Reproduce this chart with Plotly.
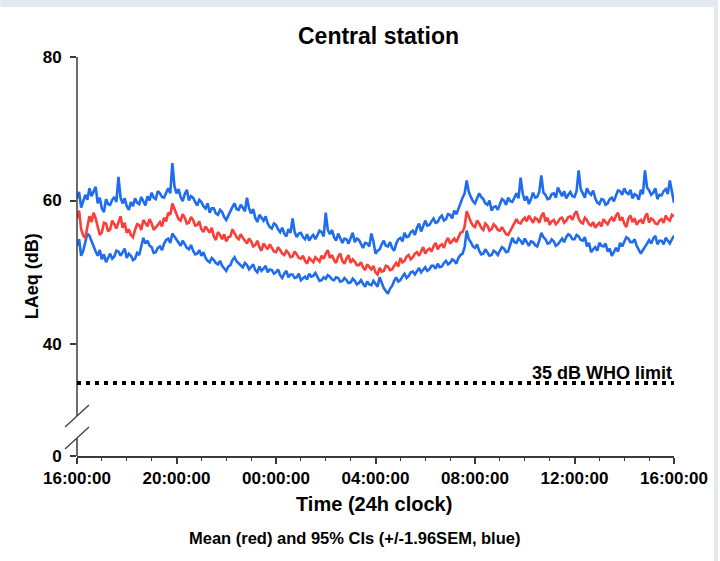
import plotly.graph_objects as go
import pandas as pd

# ---------------- data (5-minute resolution, 16:00 -> 16:00 next day) ----------------
start_time = "2021-01-01 16:00"
end_time = "2021-01-02 16:00"
step = "5min"

mean_db = [
    57.5, 58.6, 56.0, 55.1, 54.8, 56.4, 57.8, 57.0, 58.3, 57.5, 56.3, 55.2,
    55.6, 56.9, 56.8, 55.7, 56.0, 57.2, 56.7, 56.1, 57.0, 57.8, 56.2, 56.9,
    55.5, 56.0, 55.2, 54.9, 55.9, 56.7, 56.6, 55.9, 57.3, 56.8, 56.4, 57.4,
    56.8, 55.9, 56.2, 56.6, 57.0, 56.4, 57.6, 57.1, 58.3, 58.0, 59.6, 58.9,
    58.0, 57.4, 57.2, 58.1, 57.6, 56.8, 56.9, 57.7, 57.3, 56.5, 56.6, 57.1,
    56.0, 55.6, 56.4, 56.0, 55.5, 56.2, 55.0, 54.5, 55.6, 55.2, 54.6, 55.3,
    54.3, 54.9, 55.0, 56.0, 55.4, 54.9, 54.6, 55.3, 54.8, 54.3, 54.0, 54.7,
    54.3, 53.6, 53.8, 54.4, 53.5, 53.0, 54.0, 53.6, 53.2, 53.9, 53.4, 52.9,
    52.8, 53.5, 53.1, 52.6, 52.4, 53.0, 52.7, 52.1, 52.2, 52.9, 52.5, 52.0,
    51.9, 52.3, 51.6, 51.2, 52.0, 51.7, 51.4, 52.1, 51.8, 51.5, 52.3, 51.9,
    52.6, 53.1, 52.0, 52.4, 51.7, 51.3, 52.2, 52.6, 51.6, 51.2, 51.9, 52.4,
    51.3, 51.8, 51.5, 51.0, 51.0, 51.4, 50.7, 50.3, 51.1, 50.8, 50.4, 50.9,
    50.0, 49.7, 50.6, 50.1, 50.2, 50.9, 50.8, 50.3, 50.4, 50.9, 51.3, 50.8,
    52.0, 51.4, 51.6, 52.2, 52.4, 51.8, 52.1, 52.6, 52.8, 52.3, 53.0, 53.5,
    52.6, 53.1, 53.3, 52.9, 53.6, 54.1, 53.2, 53.7, 53.9, 53.4, 54.3, 54.8,
    54.0, 54.4, 54.7, 54.2, 55.0, 55.5, 55.6, 56.4, 58.5, 57.6, 57.0, 56.5,
    56.3, 57.2, 56.8, 56.2, 55.9, 56.8, 56.5, 55.8, 56.0, 56.7, 56.4, 55.9,
    55.8, 56.3, 55.8, 55.3, 55.2, 55.7, 56.3, 56.9, 57.4, 56.9, 56.8, 57.3,
    57.6, 57.1, 57.9, 57.4, 56.9, 57.6, 57.4, 56.9, 57.8, 58.3, 57.1, 57.6,
    56.6, 57.1, 57.3, 56.7, 57.0, 57.5, 57.6, 56.9, 57.2, 57.7, 57.8, 57.3,
    58.1, 58.5, 57.5, 57.0, 56.8, 57.6, 57.3, 56.7, 56.5, 57.0, 56.2, 56.6,
    56.9, 56.4, 57.4, 57.0, 56.7, 57.3, 57.6, 57.1, 57.9, 58.3, 57.2, 57.7,
    56.8, 56.3, 57.5, 57.9, 57.0, 57.5, 56.6, 57.1, 57.3, 56.8, 57.7, 58.2,
    56.9, 57.5, 57.3, 56.8, 56.7, 57.2, 57.4, 56.9, 57.9, 57.4, 57.2, 58.0,
    57.8,
]

upper_db = [
    60.3, 61.2, 59.0, 59.8, 60.8, 60.1, 61.7, 60.6, 61.2, 61.9, 59.6, 60.4,
    58.9, 58.4, 60.2, 59.5, 59.4, 60.1, 60.5, 59.8, 63.3, 60.4, 59.6, 60.3,
    59.2, 58.7, 59.8, 59.2, 60.3, 59.7, 59.5, 60.5, 59.9, 59.3, 60.6, 60.0,
    61.1, 60.4, 60.2, 61.3, 61.0, 60.5, 60.4, 61.2, 61.7, 61.0, 65.2, 62.0,
    61.0, 61.6, 60.5, 59.9, 60.9, 61.5, 60.0, 60.6, 60.4, 59.8, 59.3, 60.1,
    59.8, 59.2, 58.9, 59.6, 58.3, 58.9, 58.9, 58.2, 58.0, 58.7, 58.4, 57.7,
    57.3, 57.9, 58.6, 59.1, 59.6, 58.8, 58.7, 59.4, 59.0, 58.5, 60.4, 58.9,
    58.2, 58.8, 57.6, 57.0, 58.0, 57.5, 57.2, 57.8, 56.8, 56.3, 56.1, 56.8,
    56.6, 56.0, 55.6, 56.2, 55.4, 55.0, 56.0, 55.5, 57.5, 55.6, 54.9, 55.4,
    55.5, 54.9, 54.6, 55.3, 54.4, 54.9, 55.2, 54.6, 55.1, 55.8, 55.6, 55.0,
    58.3, 55.9, 55.3, 55.9, 54.9, 54.4, 55.4, 54.8, 54.1, 54.7, 54.6, 54.0,
    54.9, 55.5, 54.2, 54.7, 54.5, 53.9, 53.4, 54.1, 54.0, 53.6, 55.4, 54.3,
    52.6, 53.0, 53.2, 53.9, 54.4, 53.7, 53.6, 54.2, 53.4, 53.0, 54.0, 54.6,
    54.8, 54.3, 55.5, 54.9, 55.0, 55.6, 55.8, 55.2, 56.2, 56.8, 55.7, 56.4,
    57.2, 56.5, 56.6, 57.1, 57.5, 56.9, 57.0, 57.6, 57.9, 57.2, 57.4, 58.1,
    58.0, 57.5, 58.6, 58.1, 59.0, 59.6, 60.4, 61.0, 62.8, 61.2, 60.5, 59.9,
    59.6, 60.4, 61.0, 60.5, 60.2, 59.6, 59.4, 60.0, 58.6, 59.1, 59.2, 58.7,
    59.6, 60.2, 60.0, 59.4, 60.4, 59.9, 59.8, 60.5, 61.0, 60.3, 63.2, 61.0,
    60.0, 60.6, 59.5, 60.2, 61.1, 60.4, 60.5, 61.2, 63.5, 61.1, 60.8, 60.2,
    60.3, 60.9, 61.0, 60.4, 61.8, 61.2, 60.6, 61.3, 60.3, 60.8, 61.2, 60.6,
    60.5, 61.3, 64.2, 61.6, 61.0, 60.4, 61.7, 61.1, 60.8, 61.4, 60.3, 59.7,
    59.5, 60.2, 60.1, 59.4, 59.6, 60.2, 60.4, 59.9, 60.7, 61.4, 61.3, 60.8,
    61.7, 61.1, 60.9, 61.5, 60.3, 60.9, 60.7, 60.1, 61.5, 60.9, 64.2, 61.8,
    61.4, 60.8, 61.1, 61.7, 60.2, 60.8, 60.7, 61.3, 61.6, 60.9, 62.8, 61.0,
    59.7,
]

lower_db = [
    53.7, 54.6, 52.3, 53.0, 54.2, 55.4, 55.1, 54.3, 53.7, 52.9, 52.3, 53.1,
    51.8, 52.5, 51.4, 52.0, 52.6, 51.9, 52.2, 53.0, 52.9, 52.3, 52.8, 53.3,
    52.0, 52.6, 52.3, 51.7, 51.9, 52.7, 52.4, 53.6, 54.8, 54.0, 54.4, 53.7,
    53.5, 52.7, 52.8, 53.4, 53.6, 53.1, 54.0, 54.5, 54.7, 54.1, 55.4, 55.0,
    54.6, 54.1, 53.7, 54.4, 53.9, 53.4, 53.2, 53.8, 53.0, 52.5, 52.6, 53.1,
    52.3, 52.8, 52.0, 51.6, 51.4, 52.0, 51.7, 51.3, 51.1, 51.6, 50.9, 50.5,
    50.2, 50.8, 51.0, 51.7, 52.1, 51.5, 51.2, 50.9, 50.7, 51.3, 51.0, 50.4,
    50.7, 51.1, 50.3, 50.0, 50.8, 50.2, 50.5, 50.9, 50.0, 50.4, 50.3, 49.8,
    50.0, 50.4, 49.6, 49.2, 49.8, 50.2, 49.3, 49.7, 49.7, 49.2, 49.3, 49.8,
    48.9, 49.2, 49.4, 49.0, 49.8, 49.4, 49.5, 49.9, 49.3, 48.8, 48.9, 49.3,
    49.1, 49.6, 49.4, 49.0, 48.9, 49.3, 49.2, 48.7, 48.8, 49.2, 48.9, 48.5,
    48.6, 49.1, 48.8, 48.3, 48.5, 48.9, 48.4, 48.0, 48.7, 48.3, 48.2, 48.8,
    48.4, 48.0, 49.3, 48.6, 47.8, 47.4, 47.0, 47.7, 48.1, 48.8, 49.3, 48.7,
    48.9, 49.4, 49.8, 49.2, 49.5, 50.0, 50.1, 49.7, 50.2, 50.6, 50.0, 50.3,
    50.7, 50.2, 50.4, 50.9, 50.9, 50.5, 51.2, 50.7, 50.8, 51.3, 51.6, 51.1,
    51.3, 51.8, 51.6, 51.2, 52.0, 52.4, 52.6, 53.5, 55.8, 54.6, 54.2, 53.6,
    53.4, 53.9, 53.0, 52.5, 52.6, 53.2, 52.8, 52.3, 52.4, 53.0, 52.8, 52.4,
    53.0, 53.5, 53.3, 52.8, 52.9, 53.8, 54.8, 54.2, 54.1, 54.7, 54.4, 53.9,
    54.7, 54.2, 53.7, 54.3, 54.2, 53.8, 53.6, 54.4, 55.5, 54.9, 54.6, 54.0,
    54.1, 54.6, 54.3, 53.7, 53.9, 54.3, 54.7, 54.2, 54.9, 55.3, 55.1, 54.6,
    54.6, 55.2, 55.0, 54.5, 54.4, 54.9, 53.6, 54.1, 52.8, 53.2, 53.5, 53.0,
    54.1, 53.7, 53.6, 54.0, 52.9, 53.3, 52.3, 52.8, 53.4, 52.9, 54.1, 53.6,
    54.4, 54.9, 54.7, 54.2, 54.2, 54.6, 53.7, 53.2, 52.6, 53.1, 53.5, 54.0,
    54.5, 54.0, 54.7, 55.1, 53.9, 54.4, 54.4, 53.9, 54.8, 54.3, 54.0, 54.6,
    55.1,
]

who_limit_db = 35
who_label = "35 dB WHO limit"

y_tick_values = [24.4, 40, 60, 80]
y_tick_labels = ["0", "40", "60", "80"]
y_range = [24.4, 80]

title_text = "Central station"
x_title = "Time (24h clock)"
y_title = "LAeq (dB)"
subtitle = "Mean (red) and 95% CIs (+/-1.96SEM, blue)"

# ---------------- figure ----------------
times = pd.date_range(start_time, end_time, freq=step)

RED = "#fa3e3a"
BLUE = "#1f6cee"
AXIS = "#3a3a3a"
FONT = "Liberation Sans, Arial, sans-serif"

fig = go.Figure()
fig.add_trace(go.Scatter(x=times, y=upper_db, mode="lines",
                         line=dict(color=BLUE, width=2.6), hoverinfo="skip"))
fig.add_trace(go.Scatter(x=times, y=lower_db, mode="lines",
                         line=dict(color=BLUE, width=2.6), hoverinfo="skip"))
fig.add_trace(go.Scatter(x=times, y=mean_db, mode="lines",
                         line=dict(color=RED, width=2.6), hoverinfo="skip"))

W, H = 720, 561
L, R, T, B = 77, 44, 57, 105
pw, ph = W - L - R, H - T - B


def px_x(p):
    return (p - L) / pw


def px_y(p):
    return (H - B - p) / ph


def val_at_px(p):
    return y_range[1] - (p - T) / ph * (y_range[1] - y_range[0])


shapes = []
# light grey frame strips (top and right)
shapes.append(dict(type="rect", xref="paper", yref="paper", x0=px_x(0), x1=px_x(W),
                   y0=px_y(7), y1=px_y(0), fillcolor="#e4e9ef", line=dict(width=0), layer="above"))
shapes.append(dict(type="rect", xref="paper", yref="paper", x0=px_x(716), x1=px_x(W),
                   y0=px_y(H), y1=px_y(0), fillcolor="#e4e9ef", line=dict(width=0), layer="above"))
# broken y axis line
shapes.append(dict(type="line", xref="paper", yref="y", x0=0, x1=0,
                   y0=val_at_px(416), y1=y_range[1], line=dict(color=AXIS, width=1.5)))
shapes.append(dict(type="line", xref="paper", yref="y", x0=0, x1=0,
                   y0=y_range[0], y1=val_at_px(438), line=dict(color=AXIS, width=1.5)))
# break slashes
for top_px in (405, 427):
    shapes.append(dict(type="line", xref="paper", yref="y", x0=px_x(65), x1=px_x(89),
                       y0=val_at_px(top_px + 22), y1=val_at_px(top_px),
                       line=dict(color=AXIS, width=1.2)))
# WHO limit dotted line (drawn a few pixels below the value, as in the source)
shapes.append(dict(type="line", xref="paper", yref="y", x0=0, x1=1,
                   ysizemode="pixel", yanchor=who_limit_db, y0=-3, y1=-3,
                   line=dict(color="black", width=4, dash="4px,5px")))

annotations = [
    dict(text=f"<b>{title_text}</b>", xref="paper", yref="paper", x=px_x(380), y=px_y(21),
         showarrow=False, font=dict(family=FONT, size=23, color="black")),
    dict(text=f"<b>{x_title}</b>", xref="paper", yref="paper", x=px_x(375), y=px_y(517),
         showarrow=False, font=dict(family=FONT, size=20, color="black")),
    dict(text=f"<b>{subtitle}</b>", xref="paper", yref="paper", x=px_x(355), y=px_y(549),
         showarrow=False, font=dict(family=FONT, size=16.5, color="black")),
    dict(text=f"<b>{y_title}</b>", xref="paper", yref="paper", x=px_x(20), y=px_y(276),
         showarrow=False, textangle=-90, font=dict(family=FONT, size=18, color="black")),
    dict(text=f"<b>{who_label}</b>", xref="paper", yref="y", x=1, y=who_limit_db,
         xanchor="right", yanchor="bottom", yshift=-5, showarrow=False,
         font=dict(family=FONT, size=18, color="black")),
]

fig.update_layout(
    width=W, height=H,
    margin=dict(l=L, r=R, t=T, b=B),
    paper_bgcolor="white", plot_bgcolor="white",
    showlegend=False,
    shapes=shapes,
    annotations=annotations,
    xaxis=dict(
        range=[times[0], times[-1]],
        tickvals=times[::48],
        tickformat="%H:%M:%S",
        ticks="outside", ticklen=6, tickwidth=1.5, tickcolor=AXIS,
        showline=True, linecolor=AXIS, linewidth=1.5,
        showgrid=False, zeroline=False,
        tickfont=dict(family=FONT, size=17, color="black", weight="bold"),
        minor=dict(dtick=3600000, ticks="outside", ticklen=3, tickwidth=1.2,
                   tickcolor=AXIS, showgrid=False),
    ),
    yaxis=dict(
        range=y_range,
        tickvals=y_tick_values, ticktext=y_tick_labels,
        ticks="outside", ticklen=6, tickwidth=1.5, tickcolor=AXIS,
        showline=False, showgrid=False, zeroline=False,
        ticklabelstandoff=5,
        tickfont=dict(family=FONT, size=17, color="black", weight="bold"),
    ),
)

fig.write_html("out.html", config={"displayModeBar": False},
               post_script="document.body.style.margin='0px';")
